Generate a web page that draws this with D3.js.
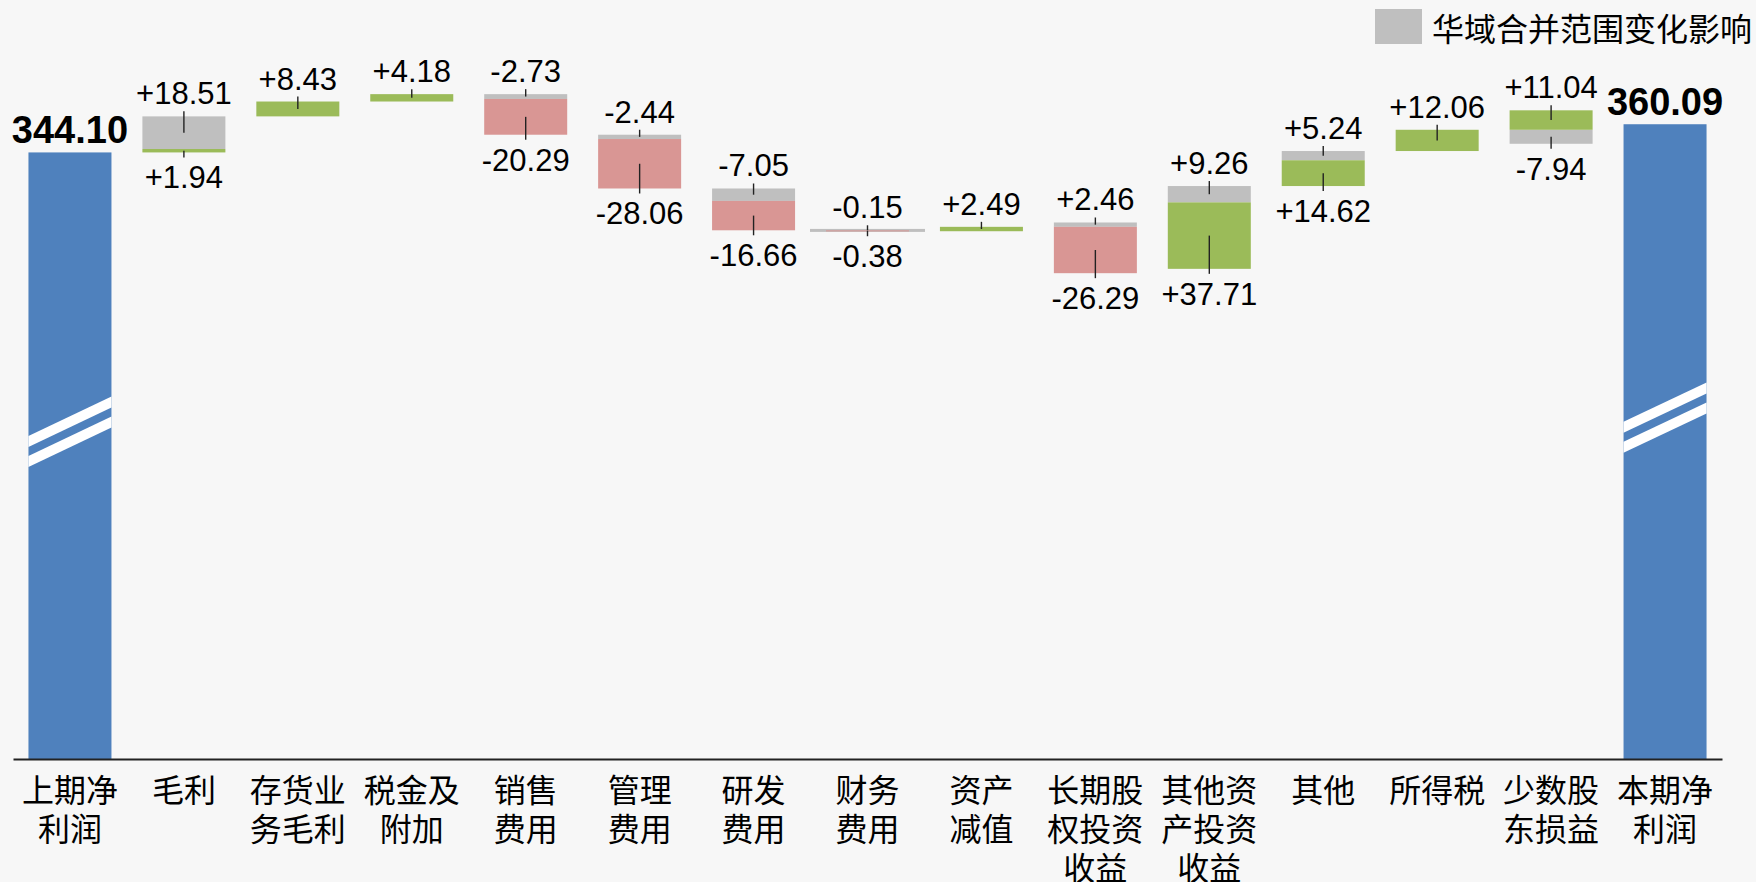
<!DOCTYPE html>
<html lang="zh">

<head>
    <meta charset="UTF-8">
    <title>净利润变动</title>
    <script src="https://cdn.jsdelivr.net/npm/d3@7/dist/d3.min.js"></script>
</head>
<style>
    html,
    body {
        margin: 0;
        padding: 0;
        background: #f7f7f7;
    }
</style>

<body>
    <script>
        //类目
        var categories = ['上期净利润', '毛利', '存货业务毛利', '税金及附加', '销售费用', '管理费用', '研发费用', '财务费用',
            '资产减值', '长期股权投资收益', '其他资产投资收益', '其他', '所得税', '少数股东损益', '本期净利润'];
        //期初、期末
        var startValue = 344.10;
        var endValue = 360.09;
        //中间各项: 主体变动 / 华域合并范围变化影响
        var mainDelta = [1.94, 8.43, 4.18, -20.29, -28.06, -16.66, -0.38, 2.49, -26.29, 37.71, 14.62, 12.06, 11.04];
        var scopeDelta = [18.51, 0, 0, -2.73, -2.44, -7.05, -0.15, 0, 2.46, 9.26, 5.24, 0, -7.94];
        var legendLabel = '华域合并范围变化影响';

        var width = 1756, height = 882;
        var color = { total: '#4f81bd', up: '#9bbb59', down: '#d99694', scope: '#bfbfbf' };
        var numFont = '"Liberation Sans", Arial, sans-serif';
        var cjkFont = '"Noto Sans CJK SC", sans-serif';

        var svg = d3.select('body').append('svg').attr('width', width).attr('height', height);
        svg.append('rect').attr('width', width).attr('height', height).attr('fill', '#f7f7f7');

        var x = d3.scaleBand().domain(categories).range([13, 1722]).paddingInner(0.2715).paddingOuter(0.1357);
        var y = d3.scaleLinear().domain([0, 430]).range([759, 1]);

        //计算每一列的分段
        var columns = [];
        var level = startValue;
        mainDelta.forEach(function (m, i) {
            var s = scopeDelta[i];
            var up = level, down = level, segs = [];
            if (m > 0) { segs.push({ kind: 'main', v: m, a: up, b: up + m }); up += m; }
            if (s > 0) { segs.push({ kind: 'scope', v: s, a: up, b: up + s }); up += s; }
            if (s < 0) { segs.push({ kind: 'scope', v: s, a: down + s, b: down }); down += s; }
            if (m < 0) { segs.push({ kind: 'main', v: m, a: down + m, b: down }); down += m; }
            columns.push({ cat: categories[i + 1], segs: segs, top: up, bottom: down });
            level = level + m + s;
        });

        var fmt = function (v) { return (v > 0 ? '+' : '') + v.toFixed(2); };

        //期初期末柱
        var totals = [{ cat: categories[0], v: startValue }, { cat: categories[categories.length - 1], v: endValue }];
        var tg = svg.append('g');
        tg.selectAll('rect').data(totals).enter().append('rect')
            .attr('x', function (d) { return x(d.cat); })
            .attr('y', function (d) { return y(d.v); })
            .attr('width', x.bandwidth())
            .attr('height', function (d) { return y(0) - y(d.v); })
            .attr('fill', color.total);
        //断轴标记
        var k = -0.475, t = 11;
        totals.forEach(function (d) {
            var xl = x(d.cat), xr = xl + x.bandwidth(), xc = (xl + xr) / 2;
            var yc = (y(d.v) + y(0)) / 2 - 24;
            [-10, 10].forEach(function (o) {
                var yl = yc + o + k * (xl - xc), yr = yc + o + k * (xr - xc);
                tg.append('polygon')
                    .attr('points', [[xl, yl - t / 2], [xr, yr - t / 2], [xr, yr + t / 2], [xl, yl + t / 2]].join(' '))
                    .attr('fill', '#fff');
            });
        });
        tg.selectAll('text').data(totals).enter().append('text')
            .attr('x', function (d) { return x(d.cat) + x.bandwidth() / 2; })
            .attr('y', function (d) { return y(d.v) - 9.5; })
            .attr('text-anchor', 'middle')
            .style('font-family', numFont).style('font-size', '38px').style('font-weight', 'bold')
            .text(function (d) { return d.v.toFixed(2); });

        //中间项
        var cg = svg.append('g');
        columns.forEach(function (c) {
            var x0 = x(c.cat), bw = x.bandwidth(), xc = x0 + bw / 2;
            var ordered = c.segs.slice().sort(function (p, q) { return q.kind === 'main' ? -1 : 1; });
            ordered.forEach(function (s) {
                var y0 = y(s.b), h = y(s.a) - y(s.b);
                var fill = s.kind === 'scope' ? color.scope : (s.v > 0 ? color.up : color.down);
                var rx = x0, rw = bw;
                if (h < 1) {
                    var mh = s.kind === 'scope' ? 3 : 1;
                    y0 = y0 + h / 2 - mh / 2; h = mh;
                    if (s.kind === 'scope') { rx = x0 - 16; rw = bw + 32; }
                }
                cg.append('rect').attr('x', rx).attr('y', y0).attr('width', rw).attr('height', h).attr('fill', fill);
            });
            //标签: 上方的段标在柱顶, 下方的段标在柱底
            var bySide = c.segs.slice().sort(function (p, q) { return (q.a + q.b) - (p.a + p.b); });
            bySide.forEach(function (s, j) {
                var mid = y((s.a + s.b) / 2);
                var above = j === 0;
                var edge = above ? y(c.top) : y(c.bottom);
                cg.append('line')
                    .attr('x1', xc).attr('x2', xc)
                    .attr('y1', mid).attr('y2', above ? edge - 5 : edge + 5)
                    .attr('stroke', '#222').attr('stroke-width', 1.4);
                cg.append('text')
                    .attr('x', xc)
                    .attr('y', above ? edge - 12 : edge + 36)
                    .attr('text-anchor', 'middle')
                    .style('font-family', numFont).style('font-size', '31px')
                    .text(fmt(s.v));
            });
        });

        //横轴
        var axis = svg.append('g').attr('transform', 'translate(0,' + y(0) + ')')
            .call(d3.axisBottom(x).tickSize(0).tickSizeOuter(0));
        axis.select('.domain').attr('stroke', '#222').attr('stroke-width', 2);
        axis.selectAll('.tick text').each(function (d) {
            var per = d.length === 4 ? 2 : 3;
            var lines = [];
            for (var i = 0; i < d.length; i += per) lines.push(d.slice(i, i + per));
            var el = d3.select(this).text(null).attr('y', null).attr('dy', null)
                .attr('fill', '#000')
                .style('font-family', cjkFont).style('font-size', '32px');
            lines.forEach(function (l, i) {
                el.append('tspan').attr('x', 0).attr('y', 43 + i * 39).text(l);
            });
        });

        //图例
        var lg = svg.append('g');
        lg.append('rect').attr('x', 1375).attr('y', 9).attr('width', 47).attr('height', 35).attr('fill', color.scope);
        lg.append('text').attr('x', 1432).attr('y', 41)
            .style('font-family', cjkFont).style('font-size', '32px')
            .text(legendLabel);
    </script>
</body>

</html>
